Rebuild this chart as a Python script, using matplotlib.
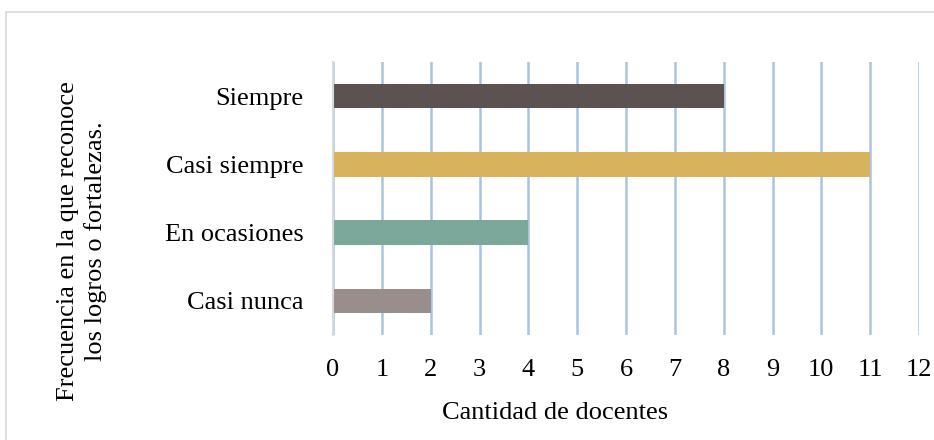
import matplotlib
matplotlib.use("Agg")
import matplotlib.pyplot as plt
from matplotlib.patches import Rectangle

categories = ["Casi nunca", "En ocasiones", "Casi siempre", "Siempre"]
values = [2, 4, 11, 8]
colors = ["#9a8e8c", "#7ca89c", "#d9b25e", "#5d5252"]
xticks = list(range(0, 13))
xlabel = "Cantidad de docentes"
ylabel = "Frecuencia en la que reconoce\nlos logros o fortalezas."

W, H = 934, 440
fig = plt.figure(figsize=(W / 100, H / 100), dpi=100)
plt.rcParams['font.family'] = ['Liberation Serif', 'DejaVu Serif']
FS = 19

# outer frame
fig.patches.append(Rectangle((6 / W, -0.1), 1.2, (H - 12) / H + 0.1,
                             transform=fig.transFigure, fill=False,
                             edgecolor="#d9d9d9", linewidth=1.2))

ax = fig.add_axes([333 / W, (H - 335) / H, (919 - 333) / W, (335 - 62) / H])
ax.barh(range(len(categories)), values, height=0.36, color=colors, zorder=3)
ax.set_xlim(0, 12)
ax.set_ylim(-0.5, 3.5)
ax.set_xticks(xticks)
ax.set_xticklabels([str(t) for t in xticks], fontsize=FS)
ax.set_yticks(range(len(categories)))
ax.set_yticklabels(categories, fontsize=FS)
ax.tick_params(axis='both', length=0)
ax.tick_params(axis='x', pad=17)
ax.tick_params(axis='y', pad=21)
ax.grid(axis='x', color="#a9c5e0", linewidth=1.8, zorder=0)
ax.set_axisbelow(True)
for s in ["top", "right", "bottom"]:
    ax.spines[s].set_visible(False)
ax.spines["left"].set_color("#d9d9d9")
ax.spines["left"].set_linewidth(1.5)
ax.spines["left"].set_zorder(4)

fig.text(555 / W, 1 - 413 / H, xlabel, fontsize=FS, ha='center', va='center')
fig.text(82 / W, 1 - 241 / H, ylabel, fontsize=FS, ha='center', va='center',
         rotation=90, multialignment='center', linespacing=1.3)

fig.savefig("out.png", dpi=100)
